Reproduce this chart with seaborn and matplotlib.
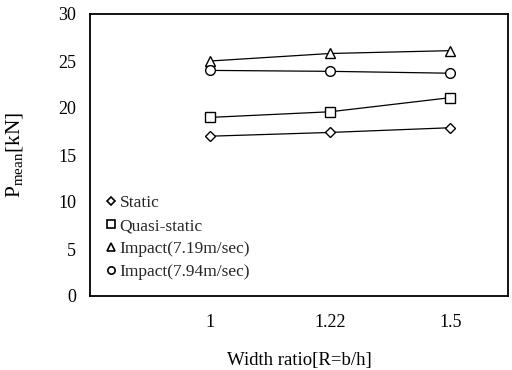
import matplotlib
matplotlib.use("Agg")
import matplotlib.pyplot as plt
from matplotlib.lines import Line2D
import seaborn as sns
import pandas as pd

# Width ratio categories and mean crushing loads [kN]
ratios = ["1", "1.22", "1.5"]
static = [17.0, 17.4, 17.9]
quasi_static = [19.0, 19.6, 21.1]
impact_719 = [25.0, 25.8, 26.1]
impact_794 = [24.0, 23.9, 23.7]

series_names = ["Static", "Quasi-static", "Impact(7.19m/sec)", "Impact(7.94m/sec)"]
series_values = [static, quasi_static, impact_719, impact_794]
series_markers = ["D", "s", "^", "o"]
series_sizes = [5.5, 7, 7, 7]

rows = []
for name, vals in zip(series_names, series_values):
    for r, v in zip(ratios, vals):
        rows.append({"R": r, "P": v, "series": name})
df = pd.DataFrame(rows)

sns.set_theme(style="white")
plt.rcParams["font.family"] = ["Liberation Serif", "DejaVu Serif"]
plt.rcParams["mathtext.default"] = "regular"

fig = plt.figure(figsize=(5.12, 3.70), dpi=100)
ax = fig.add_axes([90 / 512, 1 - 296 / 370, 418 / 512, 282 / 370])

handles = []
for name, mk, ms in zip(series_names, series_markers, series_sizes):
    sub = df[df["series"] == name]
    sns.lineplot(data=sub, x="R", y="P", ax=ax, color="black", linewidth=0.9,
                 marker=mk, markersize=ms, markerfacecolor="white",
                 markeredgecolor="black", markeredgewidth=1.0,
                 sort=False, legend=False)
    handles.append(Line2D([], [], linestyle="none", marker=mk,
                          markersize=ms * 0.75, markerfacecolor="white",
                          markeredgecolor="black", markeredgewidth=1.2,
                          label=name))

ax.set_xlim(-1.0, 2.48)
ax.set_ylim(0, 30)
ax.set_yticks([0, 5, 10, 15, 20, 25, 30])
ax.tick_params(axis="both", length=0, labelsize=13, colors="black")
ax.tick_params(axis="y", pad=10)
ax.tick_params(axis="x", pad=13)

for sp in ax.spines.values():
    sp.set_visible(True)
    sp.set_color("black")
    sp.set_linewidth(1.3)

ax.set_xlabel("Width ratio[R=b/h]", fontsize=13.5, color="black")
ax.set_ylabel(r"P$_{mean}$[kN]", fontsize=15.5, color="black")
ax.xaxis.set_label_coords(0.5, -0.2)
ax.yaxis.set_label_coords(-0.155, 0.5)

ax.legend(handles=handles, loc="lower left", bbox_to_anchor=(0.035, 0.055),
          frameon=False, fontsize=12.5, handlelength=0.7, handletextpad=0.15,
          labelspacing=0.4, borderpad=0, borderaxespad=0)

fig.savefig("out.png", dpi=100, facecolor="white")
